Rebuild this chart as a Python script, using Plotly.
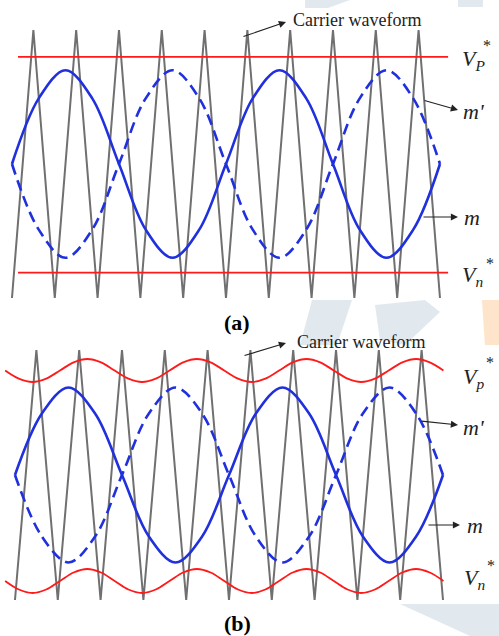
import plotly.graph_objects as go

# ---------------- data (x in carrier periods, y normalised) ----------------
carrier_x = [0, 0.5, 1, 1.5, 2, 2.5, 3, 3.5, 4, 4.5, 5, 5.5, 6, 6.5, 7, 7.5, 8, 8.5, 9, 9.5, 10]
carrier_y = [-1, 1, -1, 1, -1, 1, -1, 1, -1, 1, -1, 1, -1, 1, -1, 1, -1, 1, -1, 1, -1]

m_x = [0, 0.625, 1.25, 1.875, 2.5, 3.125, 3.75, 4.375, 5, 5.625, 6.25, 6.875, 7.5, 8.125, 8.75, 9.375, 10]
m_y = [0, 0.49, 0.70, 0.49, 0, -0.49, -0.70, -0.49, 0, 0.49, 0.70, 0.49, 0, -0.49, -0.70, -0.49, 0]
mp_y = [0, -0.49, -0.70, -0.49, 0, 0.49, 0.70, 0.49, 0, -0.49, -0.70, -0.49, 0, 0.49, 0.70, 0.49, 0]

# panel (a) constant references
vref_a_x = [0.14, 10.19]
vp_a = [0.80, 0.80]
vn_a = [-0.81, -0.81]

# panel (b) varying references
vref_b_x = [-0.23, 0.09, 0.41, 0.73, 1.05, 1.37, 1.69, 2.01, 2.33, 2.65, 2.97, 3.29, 3.61, 3.93, 4.25, 4.57,
            4.89, 5.21, 5.53, 5.85, 6.17, 6.49, 6.81, 7.13, 7.45, 7.77, 8.09, 8.41, 8.73, 9.05, 9.37, 9.69, 10.01]
vp_b = [0.836, 0.771, 0.744, 0.771, 0.836, 0.901, 0.928, 0.901,
        0.836, 0.771, 0.744, 0.771, 0.836, 0.901, 0.928, 0.901,
        0.836, 0.771, 0.744, 0.771, 0.836, 0.901, 0.928, 0.901,
        0.836, 0.771, 0.744, 0.771, 0.836, 0.901, 0.928, 0.901, 0.836]
vn_b = [-0.848, -0.916, -0.944, -0.916, -0.848, -0.780, -0.752, -0.780,
        -0.848, -0.916, -0.944, -0.916, -0.848, -0.780, -0.752, -0.780,
        -0.848, -0.916, -0.944, -0.916, -0.848, -0.780, -0.752, -0.780,
        -0.848, -0.916, -0.944, -0.916, -0.848, -0.780, -0.752, -0.780, -0.848]

GRAY = "#707070"
BLUE = "#2030dd"
RED = "#ff1a1a"
SERIF = "Liberation Serif, Times New Roman, serif"

fig = go.Figure()

for xa, ya, vx, vp, vn in [("x", "y", vref_a_x, vp_a, vn_a), ("x2", "y2", vref_b_x, vp_b, vn_b)]:
    fig.add_trace(go.Scatter(x=carrier_x, y=carrier_y, mode="lines", xaxis=xa, yaxis=ya,
                             line=dict(color=GRAY, width=2)))
    shape = "linear" if xa == "x" else "spline"
    fig.add_trace(go.Scatter(x=vx, y=vp, mode="lines", xaxis=xa, yaxis=ya,
                             line=dict(color=RED, width=1.8, shape=shape, smoothing=1.0)))
    fig.add_trace(go.Scatter(x=vx, y=vn, mode="lines", xaxis=xa, yaxis=ya,
                             line=dict(color=RED, width=1.8, shape=shape, smoothing=1.0)))
    fig.add_trace(go.Scatter(x=m_x, y=mp_y, mode="lines", xaxis=xa, yaxis=ya,
                             line=dict(color=BLUE, width=2.6, dash="11px,6px", shape="spline", smoothing=1.0)))
    fig.add_trace(go.Scatter(x=m_x, y=m_y, mode="lines", xaxis=xa, yaxis=ya,
                             line=dict(color=BLUE, width=2.6, shape="spline", smoothing=1.0)))

W, H = 499, 636


def P(px, py):
    return px / W, 1 - py / H


ann = []


def text(px, py, s, size=22, xanchor="left", color="#222"):
    x, y = P(px, py)
    ann.append(dict(x=x, y=y, xref="paper", yref="paper", text=s, showarrow=False,
                    xanchor=xanchor, yanchor="middle",
                    font=dict(family=SERIF, size=size, color=color)))


def arrow(hx, hy, tx, ty):
    x, y = P(hx, hy)
    ann.append(dict(x=x, y=y, xref="paper", yref="paper", text="", showarrow=True,
                    ax=tx - hx, ay=ty - hy, arrowhead=2, arrowsize=1.3, arrowwidth=1.1,
                    arrowcolor="#222", standoff=0, startstandoff=0))


# panel (a)
text(357, 20, "Carrier waveform", size=18, xanchor="center")
arrow(286, 22, 242, 37)
text(460, 60, "<i>V<sub>P</sub></i>")
text(487, 45, "*", size=16, xanchor="center")
arrow(458, 110, 423, 100)
text(461, 112, "<i>m'</i>")
arrow(458, 217, 422, 217)
text(462, 217, "<i>m</i>")
text(460, 276, "<i>V<sub>n</sub></i>")
text(490, 263, "*", size=16, xanchor="center")
text(237, 322, "<b>(a)</b>", size=22, xanchor="center", color="#000")

# panel (b)
text(361, 342, "Carrier waveform", size=18, xanchor="center")
arrow(286, 343, 243, 356)
text(461, 378, "<i>V<sub>p</sub></i>")
text(490, 362, "*", size=16, xanchor="center")
arrow(458, 425, 420, 421)
text(461, 427, "<i>m'</i>")
arrow(460, 525, 427, 525)
text(465, 525, "<i>m</i>")
text(462, 579, "<i>V<sub>n</sub></i>")
text(491, 565, "*", size=16, xanchor="center")
text(237, 623, "<b>(b)</b>", size=22, xanchor="center", color="#000")

# faint watermark shapes
def path(points):
    s = ""
    for i, (px, py) in enumerate(points):
        x, y = P(px, py)
        s += ("M" if i == 0 else "L") + f"{x:.4f},{y:.4f} "
    return s + "Z"


shapes = []
WM_G = "rgba(200,215,225,0.55)"
WM_O = "rgba(253,205,160,0.55)"
for pts, col in [
    ([(305, 0), (350, 0), (328, 8), (305, 8)], WM_G),
    ([(458, 0), (483, 0), (483, 7), (458, 7)], WM_G),
    ([(312, 300), (352, 300), (337, 345), (300, 345)], WM_G),
    ([(375, 305), (425, 300), (440, 312), (405, 345), (380, 340)], WM_G),
    ([(482, 300), (499, 300), (499, 345), (485, 345)], WM_O),
    ([(400, 604), (499, 604), (499, 636), (470, 636)], WM_G),
]:
    shapes.append(dict(type="path", path=path(pts), xref="paper", yref="paper",
                       fillcolor=col, line=dict(width=0), layer="below"))

fig.update_layout(
    width=W, height=H,
    margin=dict(l=0, r=0, t=0, b=0),
    paper_bgcolor="white", plot_bgcolor="rgba(0,0,0,0)",
    showlegend=False,
    annotations=ann,
    shapes=shapes,
    xaxis=dict(domain=[0, 1], range=[-0.280, 11.379], visible=False),
    yaxis=dict(domain=[1 - 310 / H, 1], range=[-1.0896, 1.224], visible=False),
    xaxis2=dict(domain=[0, 1], range=[-0.350, 11.308], visible=False, anchor="y2"),
    yaxis2=dict(domain=[0, 1 - 330 / H], range=[-1.288, 1.16], visible=False, anchor="x2"),
)

fig.write_html("out.html")
